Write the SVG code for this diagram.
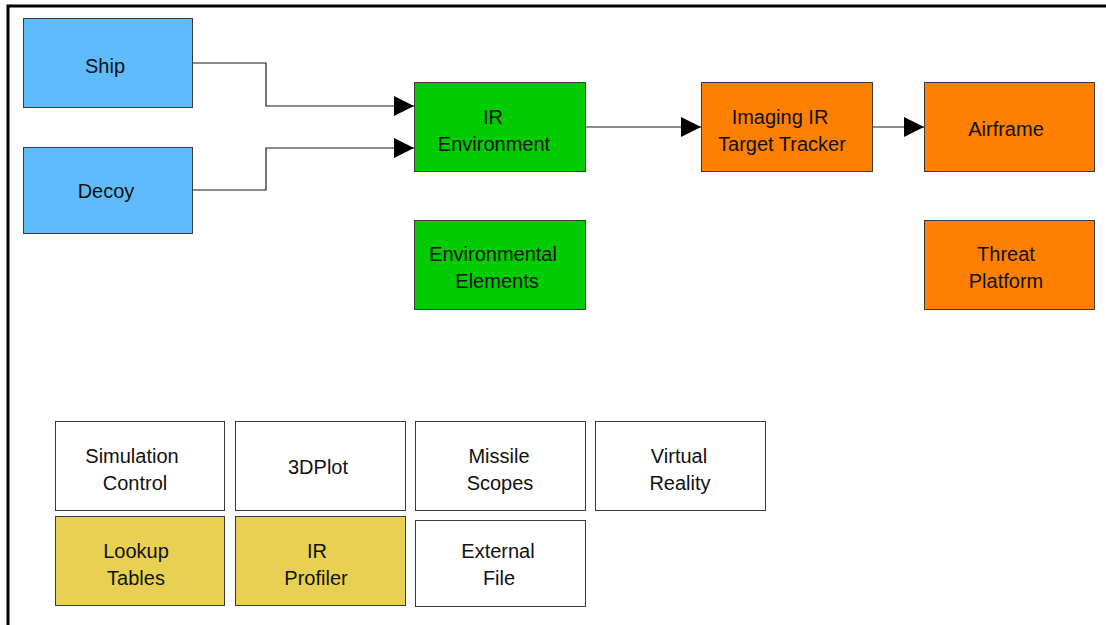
<svg xmlns="http://www.w3.org/2000/svg" width="1106" height="625" viewBox="0 0 1106 625">
  <style>
    .box { stroke: #3a3a3a; stroke-width: 1; }
    .blue { fill: #5fbbfb; }
    .green { fill: #00cc00; }
    .orange { fill: #ff8000; }
    .yellow { fill: #e8d152; }
    .white { fill: #ffffff; }
    .lbl { font-family: "Liberation Sans", Arial, sans-serif; font-size: 20px; fill: #111111; text-anchor: middle; }
    .wire { fill: none; stroke: #1a1a1a; stroke-width: 1.2; }
  </style>
  <defs>
    <marker id="arrow" markerUnits="userSpaceOnUse" markerWidth="20" markerHeight="20" refX="20" refY="10" orient="auto">
      <path d="M0,0 L20,10 L0,20 Z" fill="#000000"/>
    </marker>
  </defs>

  <rect x="0" y="0" width="1106" height="625" fill="#ffffff"/>
  <!-- outer frame -->
  <path d="M8,630 L8,6 L1110,6" fill="none" stroke="#000000" stroke-width="3"/>

  <g id="connectors">
    <path class="wire" d="M192,63 L266,63 L266,106 L414,106" marker-end="url(#arrow)"/>
    <path class="wire" d="M192,190 L266,190 L266,148 L414,148" marker-end="url(#arrow)"/>
    <path class="wire" d="M585,127 L701,127" marker-end="url(#arrow)"/>
    <path class="wire" d="M872,127 L924,127" marker-end="url(#arrow)"/>
  </g>

  <g id="ship">
    <rect class="box blue" x="23.5" y="18.5" width="169" height="89"/>
    <text class="lbl" x="105" y="73">Ship</text>
  </g>
  <g id="decoy">
    <rect class="box blue" x="23.5" y="147.5" width="169" height="86"/>
    <text class="lbl" x="106" y="198">Decoy</text>
  </g>
  <g id="ir-environment">
    <rect class="box green" x="414.5" y="82.5" width="171" height="89"/>
    <text class="lbl" x="493" y="124">IR</text>
    <text class="lbl" x="494" y="151">Environment</text>
  </g>
  <g id="environmental-elements">
    <rect class="box green" x="414.5" y="220.5" width="171" height="89"/>
    <text class="lbl" x="493" y="261">Environmental</text>
    <text class="lbl" x="497" y="288">Elements</text>
  </g>
  <g id="imaging-ir-target-tracker">
    <rect class="box orange" x="701.5" y="82.5" width="171" height="89"/>
    <text class="lbl" x="780" y="124">Imaging IR</text>
    <text class="lbl" x="782" y="151">Target Tracker</text>
  </g>
  <g id="airframe">
    <rect class="box orange" x="924.5" y="82.5" width="170" height="89"/>
    <text class="lbl" x="1006" y="136">Airframe</text>
  </g>
  <g id="threat-platform">
    <rect class="box orange" x="924.5" y="220.5" width="170" height="89"/>
    <text class="lbl" x="1006" y="261">Threat</text>
    <text class="lbl" x="1006" y="288">Platform</text>
  </g>

  <g id="simulation-control">
    <rect class="box white" x="55.5" y="421.5" width="169" height="89"/>
    <text class="lbl" x="132" y="463">Simulation</text>
    <text class="lbl" x="135" y="490">Control</text>
  </g>
  <g id="plot3d">
    <rect class="box white" x="235.5" y="421.5" width="170" height="89"/>
    <text class="lbl" x="318" y="474">3DPlot</text>
  </g>
  <g id="missile-scopes">
    <rect class="box white" x="415.5" y="421.5" width="170" height="89"/>
    <text class="lbl" x="499" y="463">Missile</text>
    <text class="lbl" x="500" y="490">Scopes</text>
  </g>
  <g id="virtual-reality">
    <rect class="box white" x="595.5" y="421.5" width="170" height="89"/>
    <text class="lbl" x="679" y="463">Virtual</text>
    <text class="lbl" x="680" y="490">Reality</text>
  </g>
  <g id="lookup-tables">
    <rect class="box yellow" x="55.5" y="516.5" width="169" height="89"/>
    <text class="lbl" x="136" y="558">Lookup</text>
    <text class="lbl" x="136" y="585">Tables</text>
  </g>
  <g id="ir-profiler">
    <rect class="box yellow" x="235.5" y="516.5" width="170" height="89"/>
    <text class="lbl" x="317" y="558">IR</text>
    <text class="lbl" x="316" y="585">Profiler</text>
  </g>
  <g id="external-file">
    <rect class="box white" x="415.5" y="520.5" width="170" height="86"/>
    <text class="lbl" x="498" y="558">External</text>
    <text class="lbl" x="499" y="585">File</text>
  </g>
</svg>
